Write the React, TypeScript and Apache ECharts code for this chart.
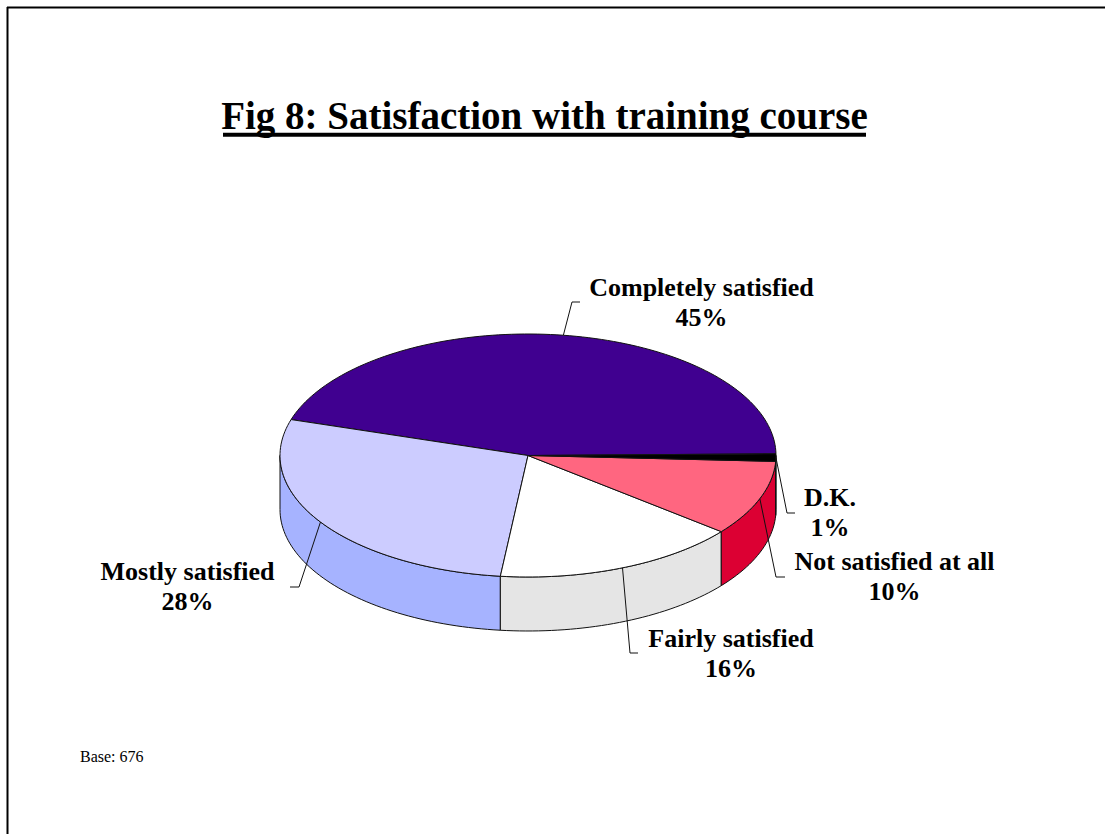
import React, { useEffect, useRef } from "react";
import * as echarts from "echarts";

const categories = ["Completely satisfied", "Mostly satisfied", "Fairly satisfied", "Not satisfied at all", "D.K."];
const values = [45, 28, 16, 10, 1];
const topColors = ["#400090", "#CCCCFF", "#FFFFFF", "#FF6680", "#000000"];
const wallColors = ["#400090", "#A6B3FF", "#E5E5E5", "#DC0033", "#000000"];
const titleText = "Fig 8: Satisfaction with training course";
const baseText = "Base: 676";

const CX = 528, CY = 455.5, RX = 248, RY = 121.5, DEPTH = 54, START = 0.8;
const SERIF = '"Liberation Serif", "Times New Roman", serif';
const LINE = "#111111";

// Elbow of each leader line, and the centre of each two-line label.
const elbows = [[572, 302, 580, 302], [299, 587, 290, 587], [630, 653, 638, 653], [776, 577, 785, 577], [787, 513, 795, 513]];
const labelCentres = [[701.5, 302], [187.5, 586.2], [731, 653], [894.5, 576], [830, 512.5]];

const total = values.reduce((a, b) => a + b, 0);
const startOf = (i: number) => START + (values.slice(0, i).reduce((a, b) => a + b, 0) / total) * 360;
const pt = (deg: number, dy = 0): number[] => {
  const r = (deg * Math.PI) / 180;
  return [CX + RX * Math.cos(r), CY - RY * Math.sin(r) + dy];
};
const arc = (a: number, b: number, dy = 0): number[][] => {
  const n = Math.max(2, Math.ceil(Math.abs(b - a) / 1.5));
  return Array.from({ length: n + 1 }, (_, k) => pt(a + ((b - a) * k) / n, dy));
};

const outline = { stroke: LINE, lineWidth: 1, lineJoin: "round" };

function renderSlice(params: any) {
  const i = params.dataIndex;
  const a = startOf(i);
  const b = startOf(i + 1);
  const children: any[] = [];
  // Side wall: only the part of the rim that faces the viewer (180 to 360 degrees).
  const wa = Math.max(a, 180);
  const wb = Math.min(b, 360);
  if (wb > wa) {
    const upper = arc(wa, wb);
    const lower = arc(wb, wa, DEPTH);
    children.push({
      type: "polygon",
      shape: { points: [...upper, ...lower] },
      style: { fill: wallColors[i], ...outline },
    });
  }
  children.push({
    type: "polygon",
    shape: { points: [[CX, CY], ...arc(a, b)] },
    style: { fill: topColors[i], ...outline },
  });
  return { type: "group", children };
}

function renderLabel(params: any) {
  const i = params.dataIndex;
  const mid = (startOf(i) + startOf(i + 1)) / 2;
  const [x, y] = pt(mid);
  const [ex, ey, fx, fy] = elbows[i];
  const [tx, ty] = labelCentres[i];
  return {
    type: "group",
    children: [
      {
        type: "polyline",
        shape: { points: [[x, y], [ex, ey], [fx, fy]] },
        style: { fill: "none", stroke: LINE, lineWidth: 1 },
      },
      {
        type: "text",
        x: tx,
        y: ty,
        style: {
          text: `${categories[i]}\n${values[i]}%`,
          align: "center",
          verticalAlign: "middle",
          font: `bold 26px ${SERIF}`,
          lineHeight: 30,
          fill: "#000000",
        },
      },
    ],
  };
}

export default function App() {
  const ref = useRef<HTMLDivElement>(null);
  useEffect(() => {
    const chart = echarts.init(ref.current!, undefined, { renderer: "svg" });
    const data = values.map((v) => [v]);
    chart.setOption({
      animation: false,
      backgroundColor: "#FFFFFF",
      series: [
        { type: "custom", coordinateSystem: "none", silent: true, renderItem: renderSlice, data, z: 2 },
        { type: "custom", coordinateSystem: "none", silent: true, renderItem: renderLabel, data, z: 3 },
      ],
      graphic: [
        { type: "line", shape: { x1: 7.5, y1: 7, x2: 7.5, y2: 834 }, style: { stroke: "#000", lineWidth: 2 } },
        { type: "line", shape: { x1: 7, y1: 7.5, x2: 1105, y2: 7.5 }, style: { stroke: "#000", lineWidth: 2 } },
        {
          type: "text",
          x: 544.5,
          y: 115,
          style: { text: titleText, align: "center", verticalAlign: "middle", font: `bold 39px ${SERIF}`, fill: "#000" },
        },
        { type: "line", shape: { x1: 223, y1: 134.7, x2: 866, y2: 134.7 }, style: { stroke: "#000", lineWidth: 4 } },
        {
          type: "text",
          x: 80,
          y: 756,
          style: { text: baseText, align: "left", verticalAlign: "middle", font: `16px ${SERIF}`, fill: "#000" },
        },
      ],
    });
    return () => chart.dispose();
  }, []);
  return <div ref={ref} style={{ position: "absolute", left: 0, top: 0, width: 1105, height: 834 }} />;
}
